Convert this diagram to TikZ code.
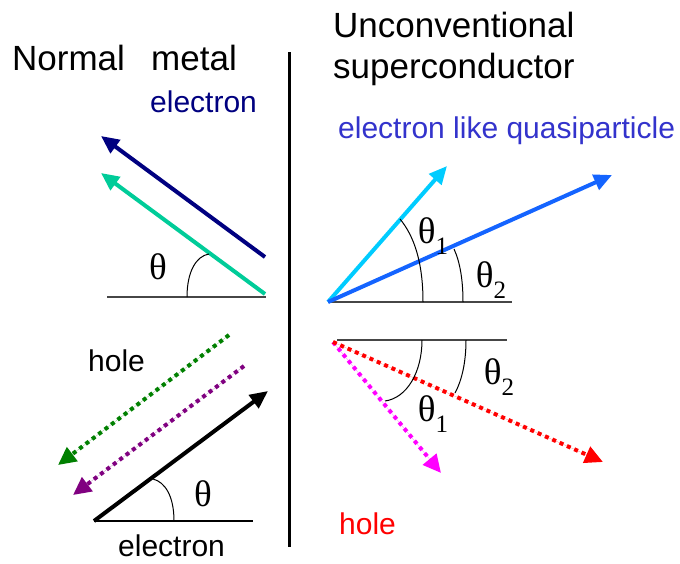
\documentclass[tikz,border=0pt]{standalone}
\usepackage{fontspec}
\setmainfont{Liberation Sans}
\newfontfamily\thetafont{Liberation Serif}
\usetikzlibrary{arrows.meta}
\definecolor{navyc}{RGB}{0,0,128}
\definecolor{tealc}{RGB}{0,204,153}
\definecolor{skyc}{RGB}{0,204,255}
\definecolor{bluec}{RGB}{20,100,255}
\definecolor{qpc}{RGB}{51,51,204}
\definecolor{greenc}{RGB}{0,128,0}
\definecolor{purplec}{RGB}{128,0,128}
\definecolor{magc}{RGB}{255,0,255}
\definecolor{basec}{RGB}{70,70,70}
\tikzset{
  title/.style={anchor=base west, inner sep=0pt, font=\fontsize{35}{41}\selectfont},
  lbl/.style={anchor=base west, inner sep=0pt, font=\fontsize{30}{34}\selectfont},
  ang/.style={inner sep=0pt, font=\thetafont\fontsize{37}{40}\selectfont},
  arr/.style={line width=4pt, -{Triangle[length=18pt,width=16pt]}},
  darr/.style={line width=4pt, dash pattern=on 4pt off 4pt, -{Triangle[length=18pt,width=17pt]}},
  baseln/.style={draw=basec, line width=1.8pt},
  arcln/.style={draw=black, line width=1pt},
}
\newcommand{\thsub}[1]{θ\raisebox{-0.28em}{\fontsize{25}{25}\selectfont #1}}
\begin{document}
\begin{tikzpicture}[x=1pt,y=-1pt]
\useasboundingbox (0,0) rectangle (680,563);
\fill[white] (0,0) rectangle (680,563);
% divider
\coordinate (divT) at (289,52);
\coordinate (divB) at (289,547);
\draw[line width=3pt] (divT) -- (divB);
% titles
\node[title] (nm) at (12,70) {Normal\hspace{0.75em}metal};
\node[title] (uc1) at (333,37) {Unconventional};
\node[title] (uc2) at (333,78) {superconductor};
\node[lbl, text=navyc] (el1) at (150,112) {electron};
\node[lbl, text=qpc] (elq) at (338,138) {electron like quasiparticle};
\node[lbl] (h1) at (88,371) {hole};
\node[lbl, text=red] (h2) at (339,534) {hole};
\node[lbl] (el2) at (118,556) {electron};
% ---- Normal metal, top
\coordinate (b1L) at (107,297);
\coordinate (b1R) at (266,297);
\draw[baseln] (b1L) -- (b1R);
\coordinate (nvS) at (265,257);
\coordinate (nvE) at (101,136);
\coordinate (tlS) at (265,294);
\coordinate (tlE) at (101,173);
\draw[arr, draw=navyc, fill=navyc] (nvS) -- (nvE);
\draw[arr, draw=tealc, fill=tealc] (tlS) -- (tlE);
\coordinate (a1s) at (187,297);
\coordinate (a1e) at (209,254);
\draw[arcln] (a1s) .. controls (187,272) and (196,256) .. (a1e);
\node[ang] (t1) at (158,267) {θ};
% ---- Normal metal, bottom
\coordinate (b2L) at (94,521);
\coordinate (b2R) at (253,521);
\draw[baseln, draw=black] (b2L) -- (b2R);
\coordinate (bkE) at (268,391);
\draw[arr] (b2L) -- (bkE);
\coordinate (gS) at (229,335);
\coordinate (gE) at (58,465);
\coordinate (pS) at (244,366);
\coordinate (pE) at (73,495);
\draw[darr, draw=greenc, fill=greenc] (gS) -- (gE);
\draw[darr, draw=purplec, fill=purplec] (pS) -- (pE);
\coordinate (a2s) at (174,521);
\coordinate (a2e) at (153,479);
\draw[arcln] (a2s) .. controls (174,496) and (165,482) .. (a2e);
\node[ang] (t2) at (203,494) {θ};
% ---- SC, top
\coordinate (b3L) at (328,302);
\coordinate (b3R) at (512,302);
\draw[baseln] (b3L) -- (b3R);
\coordinate (skE) at (447,166);
\coordinate (blE) at (612,175);
\draw[arr, draw=skyc, fill=skyc] (b3L) -- (skE);
\draw[arr, draw=bluec, fill=bluec] (b3L) -- (blE);
\draw[arcln] (423,302) .. controls (423,262) and (414,236) .. (400,219);
\draw[arcln] (463,302) .. controls (463,280) and (460,262) .. (454,249);
\node[ang] (t3) at (433,236) {\thsub{1}};
\node[ang] (t4) at (491,280) {\thsub{2}};
% ---- SC, bottom
\coordinate (b4L) at (337,340);
\coordinate (b4R) at (507,340);
\draw[baseln] (b4L) -- (b4R);
\coordinate (o4) at (333,342);
\coordinate (mgE) at (441,473);
\coordinate (rdE) at (603,462);
\draw[darr, draw=magc, fill=magc] (o4) -- (mgE);
\draw[darr, draw=red, fill=red] (o4) -- (rdE);
\draw[arcln] (422,340) .. controls (422,372) and (407,398) .. (385,401);
\draw[arcln] (466,340) .. controls (466,362) and (462,380) .. (455,393);
\node[ang] (t5) at (433,414) {\thsub{1}};
\node[ang] (t6) at (499,377) {\thsub{2}};
\end{tikzpicture}
\end{document}
